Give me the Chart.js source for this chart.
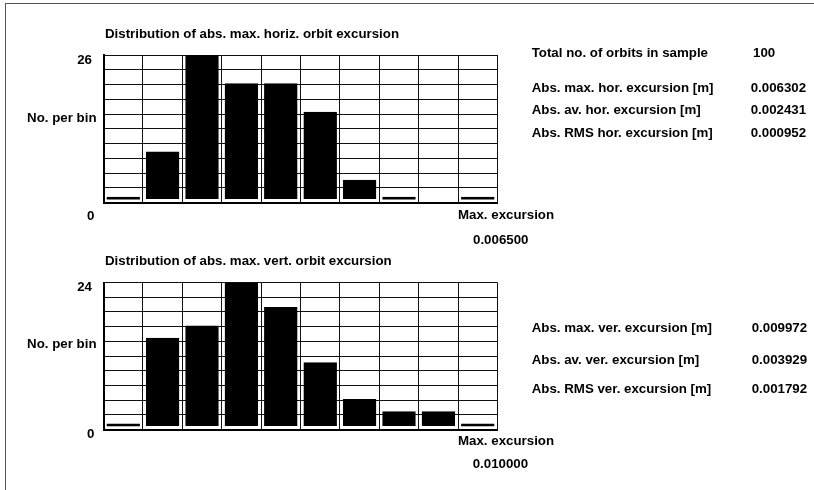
<!DOCTYPE html>
<html>
<head>
<meta charset="utf-8">
<script src="https://cdn.jsdelivr.net/npm/chart.js@4.4.1/dist/chart.umd.min.js"></script>
<style>
  html, body { margin: 0; padding: 0; background: #fff; }
  #page { position: relative; width: 814px; height: 490px; overflow: hidden; }
  #page canvas { position: absolute; left: 0; top: 0; }
  .frame-l { position: absolute; left: 5px; top: 3px; width: 1px; height: 500px; background: #555; }
  .frame-t { position: absolute; left: 5px; top: 3px; width: 820px; height: 1px; background: #555; }
  .t { position: absolute; font: bold 13.3px "Liberation Sans", Arial, sans-serif; line-height: 16px; white-space: nowrap; color: #000; }
</style>
</head>
<body>
<div id="page">
  <div class="frame-l"></div>
  <div class="frame-t"></div>
  <canvas id="chart-h" width="814" height="490"></canvas>
  <canvas id="chart-v" width="814" height="490"></canvas>
</div>
<script>
const binLabels = ['1', '2', '3', '4', '5', '6', '7', '8', '9', '10'];
const horizCounts = [1, 9, 26, 21, 21, 16, 4, 1, 0, 1];
const vertCounts = [1, 15, 17, 24, 20, 11, 5, 3, 3, 1];
const horizMax = 26;
const vertMax = 24;
const horizTickLabels = ['26', 'No. per bin', '0'];
const vertTickLabels = ['24', 'No. per bin', '0'];

const horizTitle = 'Distribution of abs. max. horiz. orbit excursion';
const vertTitle = 'Distribution of abs. max. vert. orbit excursion';
const xAxisName = 'Max. excursion';
const horizXMax = '0.006500';
const vertXMax = '0.010000';

const sampleLabel = 'Total no. of orbits in sample';
const sampleSize = '100';
const horizStatNames = ['Abs. max. hor. excursion [m]', 'Abs. av. hor. excursion [m]', 'Abs. RMS hor. excursion [m]'];
const horizStatValues = ['0.006302', '0.002431', '0.000952'];
const vertStatNames = ['Abs. max. ver. excursion [m]', 'Abs. av. ver. excursion [m]', 'Abs. RMS ver. excursion [m]'];
const vertStatValues = ['0.009972', '0.003929', '0.001792'];

const page = document.getElementById('page');
function addText(str, x, cy, align) {
  const d = document.createElement('div');
  d.className = 't';
  d.textContent = str;
  d.style.top = (cy - 8) + 'px';
  if (align === 'right') d.style.right = (814 - x) + 'px';
  else d.style.left = x + 'px';
  page.appendChild(d);
}

addText(horizTitle, 105, 34);
addText(vertTitle, 105, 260.5);
addText(xAxisName, 458, 215);
addText(horizXMax, 473, 240);
addText(xAxisName, 458, 440.5);
addText(vertXMax, 472.7, 464);

addText(sampleLabel, 531.7, 52.7);
addText(sampleSize, 753, 52.7);
[87.5, 110, 133].forEach((y, i) => {
  addText(horizStatNames[i], 531.7, y);
  addText(horizStatValues[i], 750.7, y);
});
[327.5, 360, 389].forEach((y, i) => {
  addText(vertStatNames[i], 531.7, y);
  addText(vertStatValues[i], 751.7, y);
});

// y labels drawn from the value scale (top, middle, zero)
const yLabelPlugin = {
  id: 'yLabels',
  afterDraw(chart, args, opts) {
    const y = chart.scales.y;
    const ctx = chart.ctx;
    const vals = [y.max, y.max / 2, 0];
    ctx.save();
    ctx.font = 'bold 13.3px "Liberation Sans", Arial, sans-serif';
    ctx.fillStyle = '#000';
    ctx.textAlign = 'right';
    ctx.textBaseline = 'middle';
    opts.labels.forEach((lab, i) => {
      ctx.fillText(lab, opts.right[i], y.getPixelForValue(vals[i]) + opts.dy[i] + 1);
    });
    ctx.restore();
  }
};

function makeChart(id, counts, max, tickLabels, top, bottom, dy) {
  return new Chart(document.getElementById(id), {
    type: 'bar',
    data: {
      labels: binLabels,
      datasets: [{
        data: counts,
        backgroundColor: '#000',
        borderColor: '#fff',
        borderWidth: { top: 0, left: 0, right: 0, bottom: 3 },
        borderSkipped: false,
        inflateAmount: 0,
        barPercentage: 0.85,
        categoryPercentage: 1
      }]
    },
    options: {
      responsive: false,
      animation: false,
      layout: { padding: { left: 103.5, right: 814 - 497.5, top: top, bottom: 490 - bottom } },
      plugins: {
        legend: { display: false },
        tooltip: { enabled: false },
        yLabels: { labels: tickLabels, right: [92, 96.5, 94.5], dy: dy }
      },
      scales: {
        x: {
          grid: { offset: true, color: '#111', lineWidth: 1, drawTicks: false },
          border: { color: '#000', width: 2 },
          ticks: { display: false },
          afterFit(s) { s.height = 0; }
        },
        y: {
          min: 0,
          max: max,
          grid: { color: '#111', lineWidth: 1, drawTicks: false },
          border: { color: '#000', width: 2 },
          ticks: { display: false },
          afterBuildTicks(s) {
            s.ticks = binLabels.concat(['']).map((_, i) => ({ value: max * i / 10 }));
          },
          afterFit(s) { s.width = 0; }
        }
      }
    },
    plugins: [yLabelPlugin]
  });
}

makeChart('chart-h', horizCounts, horizMax, horizTickLabels, 55, 202.5, [4.5, -11, 12.5]);
makeChart('chart-v', vertCounts, vertMax, vertTickLabels, 282.5, 429.5, [4, -13, 4]);
</script>
</body>
</html>
